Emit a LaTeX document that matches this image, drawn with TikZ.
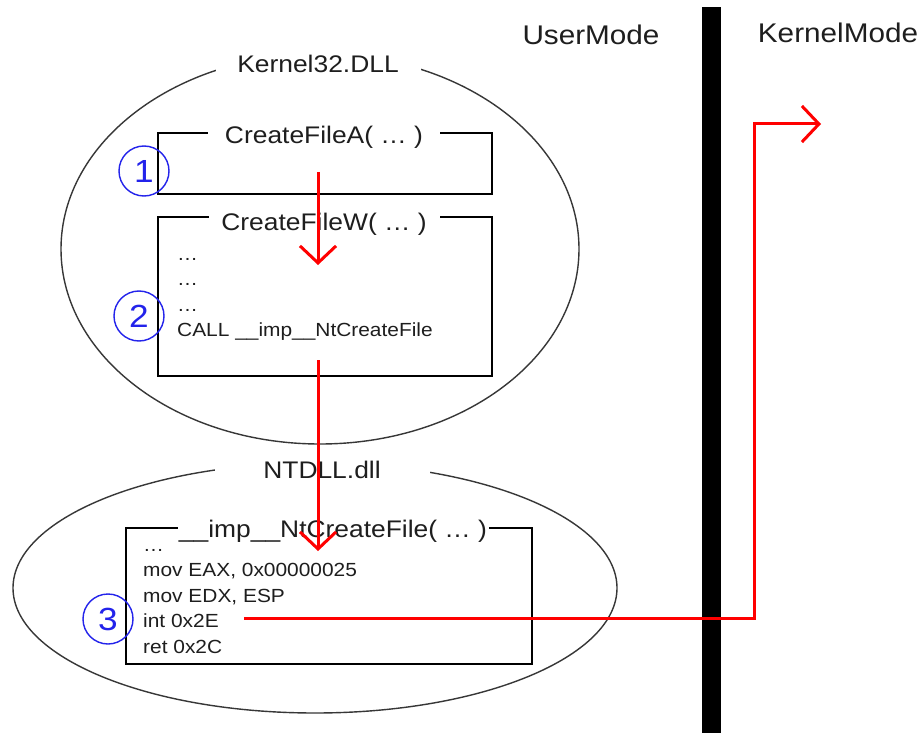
\documentclass[tikz,border=0pt]{standalone}
\usepackage{fontspec}
\setmainfont{Liberation Sans}[FakeStretch=1.1]
\usetikzlibrary{arrows.meta,shapes.geometric}
\definecolor{ink}{RGB}{30,30,30}
\definecolor{ellc}{RGB}{55,55,55}
\definecolor{numblue}{RGB}{35,35,235}
\definecolor{flowred}{RGB}{255,0,0}
\tikzset{
  dll/.style={draw=ellc, line width=1.4pt, ellipse, inner sep=0pt},
  dlllabel/.style={fill=white, text=ink, font=\fontsize{24}{28}\selectfont, inner ysep=6pt, inner xsep=0pt, anchor=base},
  codebox/.style={draw=black, line width=1.8pt, inner sep=0pt},
  boxtitle/.style={fill=white, text=ink, font=\fontsize{24}{28}\selectfont, inner ysep=1pt, inner xsep=0pt, anchor=base},
  code/.style={text=ink, font=\fontsize{19}{22}\selectfont, inner sep=0pt, anchor=base west},
  hdr/.style={text=ink, font=\fontsize{27}{30}\selectfont, inner sep=0pt, anchor=base},
  numc/.style={circle, draw=numblue, line width=1.4pt, text=numblue, minimum size=50pt, inner sep=0pt, font=\fontsize{32}{34}\selectfont},
  flow/.style={draw=flowred, line width=3pt, line join=miter, -{Straight Barb[length=17pt,width=36pt]}},
  bar/.style={fill=black, draw=none}
}
\begin{document}
\begin{tikzpicture}[x=1pt,y=-1pt]
\useasboundingbox (0,0) rectangle (924,733);
\fill[white] (0,0) rectangle (924,733);

% DLL ellipses
\node[dll, minimum width=518pt, minimum height=390pt] (k32) at (320,249) {};
\node[dll, minimum width=604pt, minimum height=250pt] (nt) at (315,588) {};
\node[dlllabel, minimum width=205pt] (k32l) at (318,73) {Kernel32.DLL};
\node[dlllabel, minimum width=215pt] (ntl) at (322,478) {NTDLL.dll};

% code boxes
\node[codebox, minimum width=334pt, minimum height=61pt] (boxA) at (325,163.5) {};
\node[codebox, minimum width=334pt, minimum height=159pt] (boxW) at (325,296.5) {};
\node[codebox, minimum width=406pt, minimum height=136pt] (boxI) at (329,596) {};
\node[boxtitle, minimum width=232pt] (tA) at (324,144) {CreateFileA( … )};
\node[boxtitle, minimum width=231pt] (tW) at (324,230) {CreateFileW( … )};
\node[boxtitle, minimum width=311pt] (tI) at (333,537) {\_\_imp\_\_NtCreateFile( … )};

% code lines
\node[code] (w1) at (177,260) {…};
\node[code] (w2) at (177,285.5) {…};
\node[code] (w3) at (177,311) {…};
\node[code] (w4) at (177,336.5) {CALL \_\_imp\_\_NtCreateFile};
\node[code] (i1) at (143,551) {…};
\node[code] (i2) at (143,576.5) {mov EAX, 0x00000025};
\node[code] (i3) at (143,602) {mov EDX, ESP};
\node[code] (i4) at (143,627.5) {int 0x2E};
\node[code] (i5) at (143,653) {ret 0x2C};

% step markers
\node[numc] (c1) at (144,171) {1};
\node[numc] (c2) at (139,316) {2};
\node[numc] (c3) at (108,619) {3};

% headers and mode divider
\node[hdr] (um) at (591,45) {UserMode};
\node[hdr] (km) at (838,43) {KernelMode};
\fill[bar] (702,7) rectangle (721,733);

% control flow
\coordinate (a1s) at (318,172);
\coordinate (a1e) at (318,265);
\coordinate (a2s) at (318,360);
\coordinate (a2e) at (318,551);
\coordinate (a3s) at (244,618);
\coordinate (a3b) at (754,618);
\coordinate (a3c) at (754,124);
\coordinate (a3e) at (821,124);
\draw[flow] (a1s) -- (a1e);
\draw[flow] (a2s) -- (a2e);
\draw[flow] (a3s) -- (a3b) -- (a3c) -- (a3e);
\end{tikzpicture}
\end{document}
